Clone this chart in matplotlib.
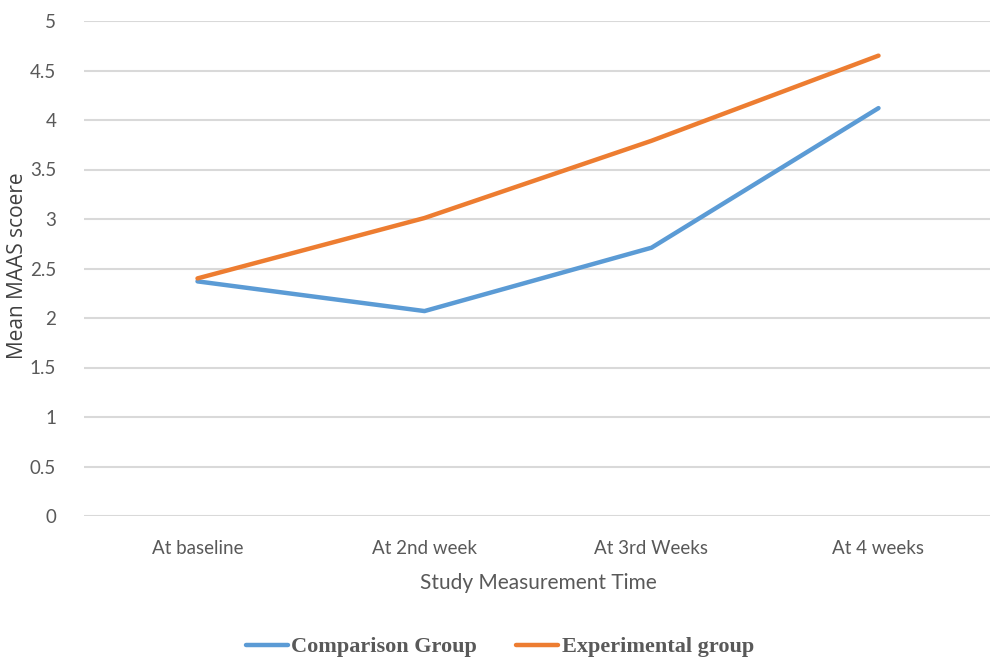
import matplotlib
matplotlib.use("Agg")
import matplotlib.pyplot as plt

categories = ["At baseline", "At 2nd week", "At 3rd Weeks", "At 4 weeks"]
comparison = [2.37, 2.07, 2.71, 4.12]
experimental = [2.40, 3.01, 3.79, 4.65]
yticks = [0, 0.5, 1, 1.5, 2, 2.5, 3, 3.5, 4, 4.5, 5]
ytick_labels = ["0", "0.5", "1", "1.5", "2", "2.5", "3", "3.5", "4", "4.5", "5"]

fig = plt.figure(figsize=(9.9, 6.6), dpi=100)
ax = fig.add_axes([84/990, (660-516)/660, (992-84)/990, (516-21)/660])
x = list(range(len(categories)))
ax.plot(x, comparison, color="#5B9BD5", lw=3.2, solid_capstyle="round", label="Comparison Group")
ax.plot(x, experimental, color="#ED7D31", lw=3.2, solid_capstyle="round", label="Experimental group")
ax.set_xlim(-0.5, 3.5)
ax.set_ylim(0, 5)
ax.set_yticks(yticks)
ax.set_yticklabels(ytick_labels, fontname="Lato", fontsize=13.5, color="#595959")
ax.set_xticks(x)
ax.set_xticklabels(categories, fontname="Lato", fontsize=13.5, color="#595959")
ax.tick_params(axis="both", length=0)
ax.tick_params(axis="y", pad=20)
ax.tick_params(axis="x", pad=17)
ax.grid(axis="y", color="#D9D9D9", lw=1.5)
ax.set_axisbelow(True)
for s in ax.spines.values():
    s.set_visible(False)
ax.set_xlabel("Study Measurement Time", fontname="Lato", fontsize=15, color="#595959", labelpad=12)
fig.text(18/990, 1 - 266/660, "Mean MAAS scoere", rotation=90, ha="center", va="center",
         fontname="Open Sans", fontsize=15, color="#404040")

leg = fig.legend(loc="center", bbox_to_anchor=(0.505, 1 - 647/660), ncol=2, frameon=False,
                 prop={"family": "Liberation Serif", "weight": "bold", "size": 16},
                 handlelength=1.9, handletextpad=0.15, columnspacing=1.75)
for t in leg.get_texts():
    t.set_color("#595959")
fig.savefig("out.png", dpi=100)
